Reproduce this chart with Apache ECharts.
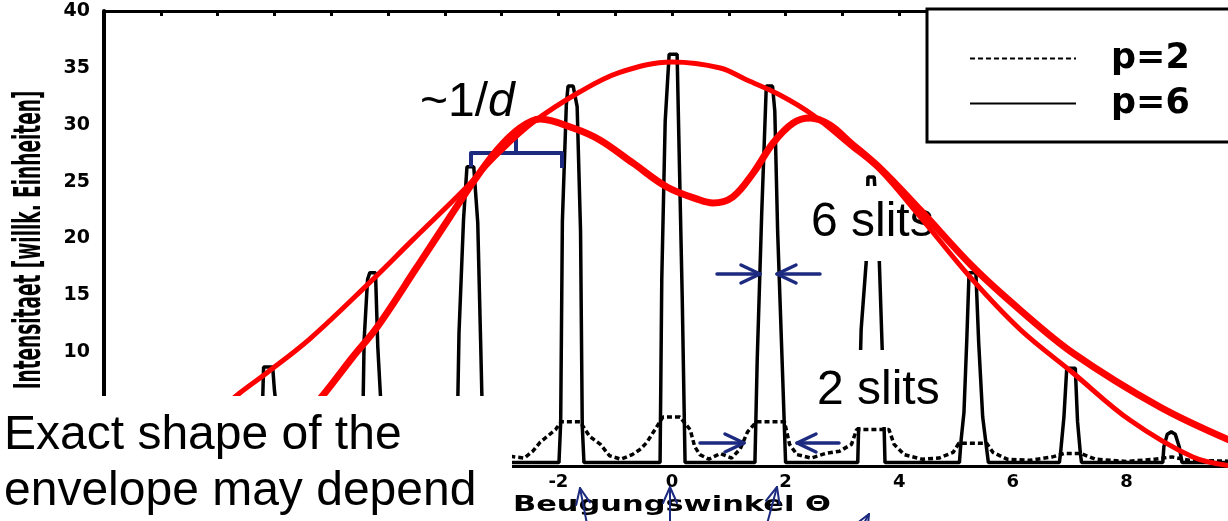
<!DOCTYPE html>
<html lang="en">
<head>
<meta charset="UTF-8">
<title>Beugung an p Spalten</title>
<script src="https://cdn.jsdelivr.net/npm/echarts@6/dist/echarts.min.js"></script>
<style>
    html, body { margin: 0; padding: 0; background: #fff; }
    #container { width: 1228px; height: 521px; }
</style>
</head>
<body>
<div id="container"></div>
<script>
    // measured intensity, p = 6 slits  [Beugungswinkel, Intensitaet]
    var p6Data = [
        [-10, 0.3],
        [-9.0, 0.3], [-8.95, 1.7], [-8.88, 2.8], [-8.82, 3.0], [-8.76, 2.8], [-8.70, 1.7], [-8.66, 0.3],
        [-7.26, 0.3], [-7.22, 3.5], [-7.19, 8.7], [-7.03, 8.7], [-7.0, 6.7], [-6.93, 3.5], [-6.90, 0.3],
        [-5.48, 0.3], [-5.44, 5.0], [-5.42, 11.1], [-5.36, 16.4], [-5.32, 17.0], [-5.22, 17.0], [-5.18, 10.5], [-5.12, 5.0], [-5.08, 0.3],
        [-3.79, 0.3], [-3.75, 11.7], [-3.67, 21.7], [-3.61, 26.3], [-3.49, 26.3], [-3.42, 21.4], [-3.37, 11.1], [-3.32, 0.3],
        [-1.99, 0.3], [-1.96, 3.8], [-1.93, 21.5], [-1.86, 31.8], [-1.83, 33.4], [-1.74, 33.4], [-1.67, 31.6], [-1.61, 20.6], [-1.58, 3.5], [-1.55, 0.3],
        [-0.21, 0.3], [-0.18, 16.4], [-0.12, 30.3], [-0.05, 36.2], [0.09, 36.2], [0.12, 29.0], [0.18, 14.8], [0.23, 0.3],
        [1.46, 0.3], [1.50, 9.3], [1.58, 22.3], [1.66, 33.4], [1.77, 33.4], [1.81, 31.2], [1.86, 20.6], [1.95, 7.6], [2.0, 0.3],
        [3.27, 0.3], [3.33, 12.0], [3.42, 18.0], [3.45, 25.4], [3.56, 25.4], [3.65, 18.0], [3.70, 10.4], [3.75, 0.3],
        [5.06, 0.3], [5.09, 2.3], [5.14, 4.7], [5.19, 11.1], [5.23, 17.0], [5.35, 17.0], [5.40, 10.8], [5.47, 4.3], [5.54, 1.5], [5.57, 0.3],
        [6.82, 0.3], [6.84, 1.1], [6.90, 4.3], [6.95, 8.6], [7.10, 8.6], [7.14, 3.9], [7.19, 1.1], [7.21, 0.3],
        [8.64, 0.3], [8.66, 1.7], [8.72, 2.8], [8.79, 3.0], [8.86, 2.8], [8.93, 1.7], [8.98, 0.3],
        [10, 0.3]
    ];

    // measured intensity, p = 2 slits
    var p2Data = [
        [-10, 0.6], [-9.2, 0.7], [-8.82, 1.0], [-8.5, 0.7],
        [-7.5, 1.0], [-7.3, 1.8], [-7.09, 2.2], [-6.9, 1.8], [-6.7, 1.0],
        [-5.75, 1.0], [-5.55, 2.5], [-5.3, 3.0], [-5.05, 2.5], [-4.85, 1.0],
        [-4.0, 1.0], [-3.8, 2.8], [-3.54, 3.5], [-3.3, 2.8], [-3.1, 1.0],
        [-2.6, 0.7], [-2.45, 1.3], [-2.32, 2.1], [-2.05, 3.2], [-1.95, 3.9], [-1.62, 3.9], [-1.45, 2.6], [-1.26, 1.9], [-1.1, 0.9],
        [-0.9, 0.6], [-0.7, 1.0], [-0.55, 1.5], [-0.44, 2.1], [-0.30, 3.2], [-0.16, 4.3], [0.14, 4.3], [0.32, 3.2], [0.40, 1.7], [0.49, 1.0],
        [0.65, 0.6], [0.85, 1.1], [1.05, 0.7], [1.2, 1.5], [1.33, 3.0], [1.49, 3.9], [1.98, 3.9], [2.07, 1.9], [2.2, 1.0],
        [2.45, 0.7], [2.7, 1.1], [2.95, 1.3], [3.16, 1.9], [3.25, 3.2], [3.82, 3.2], [3.91, 1.9], [4.09, 1.0],
        [4.4, 0.6], [4.7, 0.7], [4.95, 1.2], [5.05, 2.0], [5.54, 2.0], [5.65, 1.2], [5.9, 0.6],
        [6.3, 0.5], [6.7, 0.8], [6.9, 1.1], [7.2, 1.1], [7.45, 0.6],
        [8.0, 0.4], [8.5, 0.6], [8.8, 0.8], [9.1, 0.5], [10, 0.4]
    ];

    // hand drawn envelopes (red)
    var envelopeSingle = [
        [-8.1, 4.3], [-7.61, 6.42], [-7.13, 8.2], [-6.37, 11.2], [-5.37, 15.9], [-4.56, 19.9],
        [-3.68, 24.2], [-3.03, 27.6], [-2.45, 30.2], [-1.62, 32.9], [-0.92, 34.6], [0, 35.52],
        [0.85, 34.99], [1.32, 33.93], [1.90, 32.62], [2.48, 30.86], [3.13, 28.22], [3.66, 26.02],
        [4.37, 21.9], [5.25, 16.6], [6.13, 12.0], [7.06, 8.18], [8.06, 4.04], [9.17, 0.79], [9.85, 0]
    ];
    var envelopeDouble = [
        [-6.6, 3.6], [-6.14, 6.24], [-5.62, 9.58], [-5.19, 12.22], [-4.49, 17.49], [-3.91, 21.89],
        [-3.50, 24.97], [-3.08, 27.78], [-2.68, 29.71], [-2.32, 30.51], [-1.74, 29.71], [-1.27, 28.66],
        [-0.69, 26.64], [-0.09, 24.53], [0.49, 23.38], [0.72, 23.12], [1.07, 23.65], [1.43, 25.76],
        [1.78, 28.40], [2.13, 30.15], [2.43, 30.59], [2.78, 29.98], [3.13, 28.48], [3.66, 26.2],
        [4.37, 22.51], [5.30, 17.49], [6.13, 13.71], [7.06, 9.93], [8.59, 5.19], [9.85, 2.2]
    ];

    var legendNames = ['p=2', 'p=6'];
    var navy = '#1c2a80';

    var chart = echarts.init(document.getElementById('container'), null, {renderer: 'canvas'});

    // blue arrow: shaft + head, tip at (x2, y2)
    function arrow(x1, y1, x2, y2, len, half, w, z)
    {
        var a = Math.atan2(y2 - y1, x2 - x1);
        var bx = x2 - len * Math.cos(a), by = y2 - len * Math.sin(a);
        var nx = -Math.sin(a) * half, ny = Math.cos(a) * half;
        var st = {stroke: navy, lineWidth: w, fill: null, lineCap: 'round', lineJoin: 'round'};
        return [
            {type: 'polyline', z: z, shape: {points: [[x1, y1], [x2, y2]]}, style: st},
            {type: 'polyline', z: z, shape: {points: [[bx + nx, by + ny], [x2, y2], [bx - nx, by - ny]]}, style: st}
        ];
    }

    var graphics = [];
    // y axis title
    graphics.push({
        type: 'text', x: 30, y: 240, rotation: Math.PI / 2, scaleX: 0.5, z: 1,
        style: {text: 'Intensitaet [willk. Einheiten]', font: 'bold 37px "DejaVu Sans"', fill: '#000', align: 'center', verticalAlign: 'middle'}
    });
    // x axis title
    graphics.push({
        type: 'text', x: 513, y: 506, scaleX: 1.45, z: 1,
        style: {text: 'Beugungswinkel Θ', font: 'bold 21px "DejaVu Sans"', fill: '#000', align: 'left', verticalAlign: 'middle'}
    });
    // ~1/d bracket
    graphics.push({
        type: 'polyline', z: 4,
        shape: {points: [[471, 167], [471, 153], [562, 153], [562, 168]]},
        style: {stroke: navy, lineWidth: 4, fill: null, lineJoin: 'round'}
    });
    graphics.push({
        type: 'polyline', z: 4,
        shape: {points: [[516, 153], [516, 137]]},
        style: {stroke: navy, lineWidth: 4, fill: null}
    });
    graphics.push({type: 'text', x: 420, y: 103, z: 6, style: {text: '~1/', font: '48px "Liberation Sans"', fill: '#000', verticalAlign: 'middle'}});
    graphics.push({type: 'text', x: 488, y: 103, z: 6, style: {text: 'd', font: 'italic 48px "Liberation Sans"', fill: '#000', verticalAlign: 'middle'}});
    // 6 slits / 2 slits labels (white backing)
    graphics.push({type: 'rect', z: 3, shape: {x: 806, y: 186, width: 130, height: 75}, style: {fill: '#fff'}});
    graphics.push({type: 'text', x: 811, y: 223, z: 3, style: {text: '6 slits', font: '48px "Liberation Sans"', fill: '#000', verticalAlign: 'middle'}});
    graphics.push({type: 'rect', z: 3, shape: {x: 812, y: 350, width: 132, height: 77}, style: {fill: '#fff'}});
    graphics.push({type: 'text', x: 817, y: 391, z: 3, style: {text: '2 slits', font: '48px "Liberation Sans"', fill: '#000', verticalAlign: 'middle'}});
    // width arrows
    graphics = graphics.concat(
        arrow(717, 274, 760, 274, 19, 9, 3.5, 6),
        arrow(820, 274, 777, 274, 19, 9, 3.5, 6),
        arrow(700, 443, 744, 443, 19, 9, 3.5, 6),
        arrow(839, 443, 797, 443, 19, 9, 3.5, 6),
        arrow(587, 524, 580, 488, 16, 7, 2, 12),
        arrow(670, 524, 670, 487, 16, 7, 2, 12),
        arrow(767, 524, 777, 487, 16, 7, 2, 12),
        arrow(852, 545, 869, 514, 16, 7, 2, 12)
    );
    // lower left note
    graphics.push({type: 'rect', z: 10, shape: {x: 0, y: 396, width: 512, height: 125}, style: {fill: '#fff'}});
    graphics.push({type: 'text', x: 4, y: 436, z: 11, style: {text: 'Exact shape of the', font: '48px "Liberation Sans"', fill: '#000', verticalAlign: 'middle'}});
    graphics.push({type: 'text', x: 4, y: 492, z: 11, style: {text: 'envelope may depend', font: '48px "Liberation Sans"', fill: '#000', verticalAlign: 'middle'}});

    var option = {
        animation: false,
        backgroundColor: '#fff',
        grid: {left: 104, top: 11, width: 1136, height: 455, outerBoundsMode: 'none', containLabel: false},
        legend: {
            data: legendNames,
            orient: 'vertical',
            left: 927,
            top: 9,
            itemWidth: 106,
            itemHeight: 20,
            itemGap: 10,
            padding: [32, 120, 21, 42],
            backgroundColor: '#fff',
            borderColor: '#000',
            borderWidth: 3,
            borderRadius: 0,
            selectedMode: false,
            itemStyle: {opacity: 0},
            textStyle: {
                color: '#000',
                fontFamily: 'DejaVu Sans',
                fontWeight: 'bold',
                fontSize: 35,
                padding: [0, 0, 0, 30]
            },
            z: 6
        },
        xAxis: [
            {
                type: 'value', min: -10, max: 10, interval: 2, position: 'bottom',
                axisLine: {onZero: false, lineStyle: {color: '#000', width: 3}},
                axisTick: {show: false},
                splitLine: {show: false},
                axisLabel: {color: '#000', fontFamily: 'DejaVu Sans', fontWeight: 'bold', fontSize: 18, margin: 7}
            },
            {
                type: 'value', min: -10, max: 10, interval: 1, position: 'top',
                axisLine: {onZero: false, lineStyle: {color: '#000', width: 3}},
                axisTick: {inside: true, length: 5, lineStyle: {color: '#000', width: 3}},
                axisLabel: {show: false},
                splitLine: {show: false}
            }
        ],
        yAxis: {
            type: 'value', min: 0, max: 40, interval: 5,
            axisLine: {show: true, onZero: false, lineStyle: {color: '#000', width: 4}},
            axisTick: {show: false},
            splitLine: {show: false},
            axisLabel: {color: '#000', fontFamily: 'DejaVu Sans', fontWeight: 'bold', fontSize: 19, margin: 14}
        },
        series: [
            {
                name: 'p=2', type: 'line', data: p2Data, symbol: 'none', z: 2,
                itemStyle: {color: '#000'},
                lineStyle: {color: '#000', width: 3.5, type: [5, 3]}
            },
            {
                name: 'p=6', type: 'line', data: p6Data, symbol: 'none', z: 2,
                itemStyle: {color: '#000'},
                lineStyle: {color: '#000', width: 3.5}
            },
            {
                name: 'envelope 1', type: 'line', data: envelopeSingle, symbol: 'none', smooth: 0.35, z: 5,
                lineStyle: {color: '#ff0000', width: 5}
            },
            {
                name: 'envelope 2', type: 'line', data: envelopeDouble, symbol: 'none', smooth: 0.35, z: 5,
                lineStyle: {color: '#ff0000', width: 7}
            }
        ],
        graphic: graphics
    };

    chart.setOption(option);
</script>
</body>
</html>
